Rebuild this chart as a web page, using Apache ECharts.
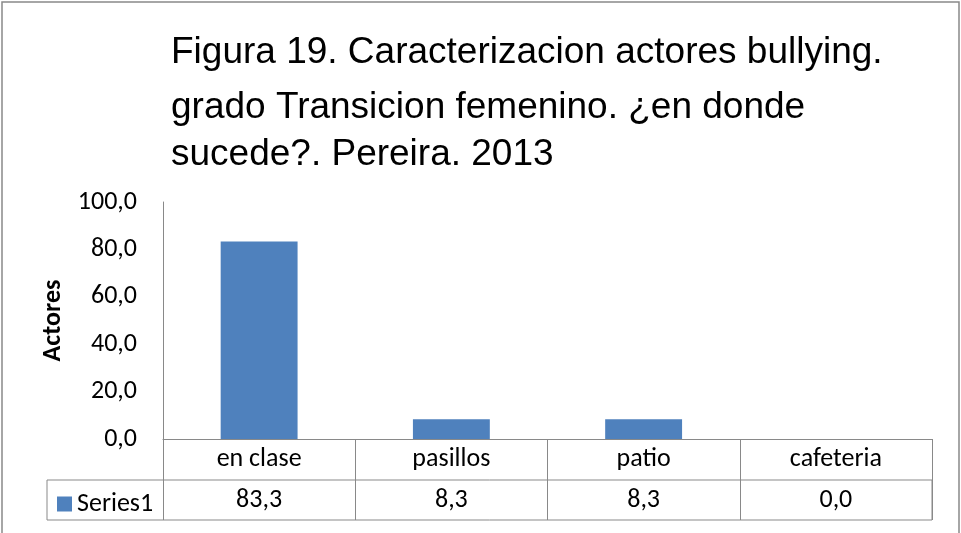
<!DOCTYPE html>
<html><head><meta charset="utf-8">
<script src="https://cdn.jsdelivr.net/npm/echarts@6/dist/echarts.min.js"></script>
<style>html,body{margin:0;padding:0;background:#fff}#c{width:961px;height:533px}</style>
</head><body><div id="c"></div>
<script>
const titleLines = ['Figura 19. Caracterizacion actores bullying.', 'grado Transicion femenino. \u00bfen donde', 'sucede?. Pereira. 2013'];
const categories = ['en clase', 'pasillos', 'patio', 'cafeteria'];
const seriesName = 'Series1';
const values = [83.3, 8.3, 8.3, 0.0];
const yTicks = {min: 0, max: 100, interval: 20};
const yName = 'Actores';

const fmt = v => Number(v).toFixed(1).replace('.', ',');
const gray = '#898989';
const font = 'Carlito, Lato, sans-serif';
const tfont = 'Liberation Sans, Arial, sans-serif';
const fs = 26;

const chart = echarts.init(document.getElementById('c'), null, {renderer: 'canvas'});
chart.setOption({
  animation: false,
  backgroundColor: '#fff',
  title: {
    text: '{a|' + titleLines[0] + '}\n{b|' + titleLines[1] + '}\n{c|' + titleLines[2] + '}',
    left: 166, top: 18,
    textStyle: {fontFamily: tfont, fontSize: 37, fontWeight: 'normal', color: '#000',
      rich: {
        a: {fontFamily: tfont, fontSize: 37, color: '#000', lineHeight: 59},
        b: {fontFamily: tfont, fontSize: 37, color: '#000', lineHeight: 51},
        c: {fontFamily: tfont, fontSize: 37, color: '#000', lineHeight: 43}
      }}
  },
  graphic: [{type: 'rect', shape: {x: 2, y: 2, width: 957, height: 560}, style: {fill: 'none', stroke: gray, lineWidth: 1.5}, silent: true}],
  legend: {
    data: [{name: seriesName, icon: 'rect'}], left: 52, top: 486, itemWidth: 15, itemHeight: 15, itemGap: 5,
    textStyle: {fontFamily: font, fontSize: fs, color: '#000'}
  },
  grid: [
    {left: 163, right: 29, top: 202, bottom: 94},
    {left: 47, right: 29, top: 480, bottom: 13, show: true, borderColor: gray, borderWidth: 1, backgroundColor: 'transparent'}
  ],
  xAxis: [
    {type: 'category', data: categories, gridIndex: 0,
     axisLine: {lineStyle: {color: gray, width: 1}},
     axisTick: {show: true, length: 81, lineStyle: {color: gray}},
     axisLabel: {margin: 0, interval: 0, color: '#000', fontFamily: font,
       formatter: (v, i) => '{a|' + v + '}\n{b|' + fmt(values[i]) + '}',
       rich: {a: {fontFamily: font, fontSize: fs, lineHeight: 41, color: '#000'},
              b: {fontFamily: font, fontSize: fs, lineHeight: 40, color: '#000'}}}},
    {type: 'category', data: categories, gridIndex: 1, show: false}
  ],
  yAxis: [
    {type: 'value', gridIndex: 0, min: yTicks.min, max: yTicks.max, interval: yTicks.interval,
     name: yName, nameLocation: 'middle', nameRotate: 90, nameGap: 96,
     nameTextStyle: {fontFamily: font, fontSize: fs, fontWeight: 'bold', color: '#000'},
     axisLine: {show: true, lineStyle: {color: gray}}, axisTick: {show: false}, splitLine: {show: false},
     axisLabel: {margin: 26, color: '#000', fontFamily: font, fontSize: fs, formatter: v => fmt(v)}},
    {type: 'value', gridIndex: 1, show: false}
  ],
  series: [{
    name: seriesName, type: 'bar', data: values, xAxisIndex: 0, yAxisIndex: 0,
    barWidth: '40%', itemStyle: {color: '#4F81BD'}
  }]
});
</script></body></html>
